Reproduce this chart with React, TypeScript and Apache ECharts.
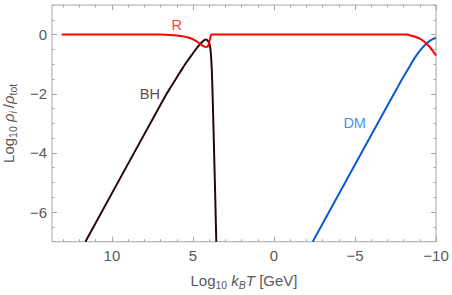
import React, { useEffect, useRef } from "react";
import * as echarts from "echarts";

// Curves: [log10 kB T (GeV), log10 rho_i/rho_tot]
const radiationR: [number, number][] = [
  [13.1, 0], [7.0, 0], [6.4, -0.01], [6.0, -0.03], [5.6, -0.06], [5.3, -0.1],
  [5.0, -0.16], [4.8, -0.22], [4.6, -0.3], [4.45, -0.36], [4.32, -0.4],
  [4.22, -0.42], [4.12, -0.41], [4.05, -0.36], [3.99, -0.25], [3.94, -0.12],
  [3.9, -0.04], [3.86, 0], [-8.2, 0], [-8.5, -0.04], [-8.8, -0.09],
  [-9.0, -0.14], [-9.2, -0.21], [-9.4, -0.3], [-9.6, -0.41], [-9.8, -0.55], [-10, -0.71],
];
const blackHoleBH: [number, number][] = [
  [11.64, -7], [6.73, -2.1], [6.4, -1.8], [6.0, -1.45], [5.6, -1.1], [5.3, -0.86],
  [5.0, -0.63], [4.8, -0.48], [4.6, -0.35], [4.45, -0.26], [4.3, -0.19],
  [4.2, -0.17], [4.1, -0.2], [4.02, -0.26], [3.96, -0.36], [3.91, -0.55],
  [3.87, -0.85], [3.83, -1.3], [3.79, -2.0], [3.74, -3.0], [3.68, -4.3],
  [3.62, -5.6], [3.56, -7],
];
const darkMatterDM: [number, number][] = [
  [-2.39, -7], [-7.2, -2.2], [-7.6, -1.81], [-8.0, -1.42], [-8.4, -1.05],
  [-8.7, -0.78], [-9.0, -0.55], [-9.3, -0.36], [-9.6, -0.22], [-9.8, -0.15], [-10, -0.1],
];
const curveLabels = [
  { name: "R", x: 6.0, y: 0.32, color: "#ff0000" },
  { name: "BH", x: 7.66, y: -2.0, color: "#3a1010" },
  { name: "DM", x: -4.98, y: -2.98, color: "#1a6ee6" },
];
const xMajorTicks = [10, 5, 0, -5, -10];
const xMinorTicks = [13, 12, 11, 10, 9, 8, 7, 6, 5, 4, 3, 2, 1, 0, -1, -2, -3, -4, -5, -6, -7, -8, -9, -10];
const yMajorTicks = [0, -2, -4, -6];
const yMinorTicks = [-7, -6.5, -6, -5.5, -5, -4.5, -4, -3.5, -3, -2.5, -2, -1.5, -1, -0.5, 0, 0.5, 1];
const X_MIN = -10;
const X_MAX = 13.7;
const Y_MIN = -7;
const Y_MAX = 1;

const FONT = "'Liberation Sans', Arial, sans-serif";
const GRAY = "#5a5a5a";
const FRAME = "#a6a6a6";
const FS = 15;
const SUB = 10.5;

const fmt = (v: number) => (v < 0 ? "\u2212" + Math.abs(v) : String(v));

const richStyles = {
  n: { fontSize: FS, lineHeight: 20, verticalAlign: "middle", color: GRAY, fontFamily: FONT },
  i: { fontSize: FS, lineHeight: 20, verticalAlign: "middle", fontStyle: "italic", color: GRAY, fontFamily: FONT },
  s: { fontSize: SUB, lineHeight: 10, verticalAlign: "bottom", color: GRAY, fontFamily: FONT },
  si: { fontSize: SUB, lineHeight: 10, verticalAlign: "bottom", fontStyle: "italic", color: GRAY, fontFamily: FONT },
};

function makeX(pos: "bottom" | "top", major: boolean, main: boolean): any {
  return {
    type: "value",
    position: pos,
    inverse: true,
    min: X_MIN,
    max: X_MAX,
    axisLine: { show: false, onZero: false },
    splitLine: { show: false },
    axisTick: {
      show: true,
      inside: true,
      length: major ? 5 : 2.5,
      customValues: major ? xMajorTicks : xMinorTicks,
      lineStyle: { color: FRAME, width: 1 },
    },
    axisLabel: main
      ? { show: true, customValues: xMajorTicks, formatter: fmt, color: GRAY, fontSize: FS, fontFamily: FONT, margin: 6 }
      : { show: false },
    ...(main
      ? {
          name: "{n|Log}{s|10}{n| }{i|k}{si|B}{i|T}{n| [GeV]}",
          nameLocation: "middle",
          nameGap: 29,
          nameTextStyle: { color: GRAY, fontFamily: FONT, rich: richStyles },
        }
      : {}),
  };
}

function makeY(pos: "left" | "right", major: boolean, main: boolean): any {
  return {
    type: "value",
    position: pos,
    min: Y_MIN,
    max: Y_MAX,
    axisLine: { show: false, onZero: false },
    splitLine: { show: false },
    axisTick: {
      show: true,
      inside: true,
      length: major ? 5 : 2.5,
      customValues: major ? yMajorTicks : yMinorTicks,
      lineStyle: { color: FRAME, width: 1 },
    },
    axisLabel: main
      ? { show: true, customValues: yMajorTicks, formatter: fmt, color: GRAY, fontSize: FS, fontFamily: FONT, margin: 5 }
      : { show: false },
    ...(main
      ? {
          name: "{n|Log}{s|10}{n| }{i|ρ}{si|i }{n|/}{i|ρ}{s|tot}",
          nameLocation: "middle",
          nameGap: 26,
          nameRotate: 90,
          nameTextStyle: { color: GRAY, fontFamily: FONT, rich: richStyles },
        }
      : {}),
  };
}

export default function App() {
  const ref = useRef<HTMLDivElement>(null);
  useEffect(() => {
    if (!ref.current) return;
    const chart = echarts.init(ref.current, undefined, { renderer: "svg" });
    const lineSeries = (data: [number, number][], color: string, z: number) => ({
      type: "line",
      data,
      xAxisIndex: 0,
      yAxisIndex: 0,
      showSymbol: false,
      symbol: "none",
      smooth: 0.25,
      clip: true,
      z,
      lineStyle: { color, width: 2 },
    });
    chart.setOption({
      animation: false,
      backgroundColor: "#ffffff",
      grid: {
        left: 52,
        top: 5,
        width: 384,
        height: 236.7,
        containLabel: false,
        outerBoundsMode: "none",
        show: true,
        borderColor: FRAME,
        borderWidth: 1,
        backgroundColor: "transparent",
      },
      xAxis: [makeX("bottom", true, true), makeX("bottom", false, false), makeX("top", true, false), makeX("top", false, false)],
      yAxis: [makeY("left", true, true), makeY("left", false, false), makeY("right", true, false), makeY("right", false, false)],
      series: [
        lineSeries(blackHoleBH, "#2a0606", 3),
        lineSeries(darkMatterDM, "#0a5ad0", 3),
        lineSeries(radiationR, "#ff0000", 4),
        {
          type: "scatter",
          xAxisIndex: 0,
          yAxisIndex: 0,
          symbolSize: 0,
          z: 5,
          silent: true,
          data: curveLabels.map((l) => ({
            value: [l.x, l.y],
            name: l.name,
            label: {
              show: true,
              position: "inside",
              formatter: l.name,
              color: l.color,
              textBorderWidth: 0,
              fontSize: 14.5,
              fontFamily: FONT,
            },
          })),
        },
      ],
    });
    return () => chart.dispose();
  }, []);
  return (
    <div
      ref={ref}
      style={{ position: "absolute", left: 0, top: 0, width: 452, height: 295 }}
    />
  );
}
